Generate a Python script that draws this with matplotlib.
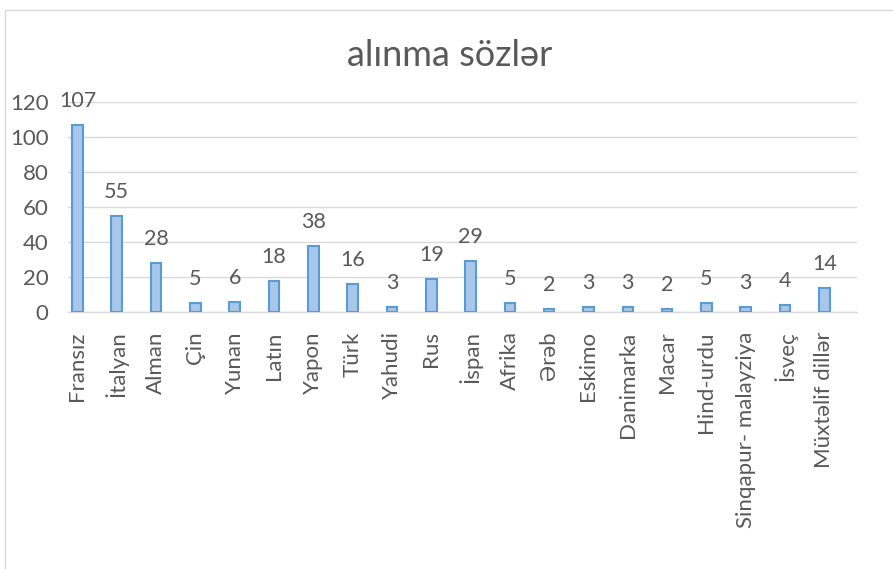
import matplotlib.pyplot as plt
from matplotlib.patches import Rectangle

# Borrowed words by source language
languages = ["Fransız", "İtalyan", "Alman", "Çin", "Yunan", "Latın", "Yapon", "Türk",
             "Yahudi", "Rus", "İspan", "Afrika", "Ərəb", "Eskimo", "Danimarka", "Macar",
             "Hind-urdu", "Sinqapur- malayziya", "İsveç", "Müxtəlif dillər"]
counts = [107, 55, 28, 5, 6, 18, 38, 16, 3, 19, 29, 5, 2, 3, 3, 2, 5, 3, 4, 14]
y_ticks = [0, 20, 40, 60, 80, 100, 120]

plt.rcParams['font.family'] = ['Lato', 'DejaVu Sans']
text_color = "#595959"
grid_color = "#D9D9D9"

fig = plt.figure(figsize=(8.93, 5.69), dpi=100)
ax = fig.add_axes([68 / 893, 1 - 312 / 569, (857 - 68) / 893, (312 - 102) / 569])

# chart frame (only left and top edges are visible)
fig.patches.append(Rectangle((5 / 893, -0.5), 2, 0.5 + (569 - 10) / 569,
                             transform=fig.transFigure, fill=False,
                             edgecolor=grid_color, linewidth=1))

x = list(range(len(languages)))
bars = ax.bar(x, counts, width=0.27, color="#A7C7EB", edgecolor="#5B9BD5",
              linewidth=1.5, zorder=3)

for xi, v in zip(x, counts):
    ax.annotate(str(v), (xi, v), xytext=(0, 10), textcoords="offset points",
                ha="center", va="bottom", fontsize=15.5, color=text_color,
                annotation_clip=False)

ax.set_xlim(-0.24, len(languages) - 1 + 0.83)
ax.set_ylim(0, 120)
ax.set_yticks(y_ticks)
ax.set_xticks(x)
ax.set_xticklabels(languages, rotation=90, fontsize=16, color=text_color)
ax.tick_params(axis="y", labelsize=16, labelcolor=text_color, length=0, pad=14)
ax.tick_params(axis="x", length=0, pad=14)

ax.grid(axis="y", color=grid_color, linewidth=1, zorder=0)
for side in ["top", "right", "left"]:
    ax.spines[side].set_visible(False)
ax.spines["bottom"].set_color(grid_color)
ax.spines["bottom"].set_linewidth(1)

fig.text(450 / 893, 1 - 55 / 569, "alınma sözlər", ha="center", va="center",
         fontsize=26, color=text_color)

fig.savefig("out.png", dpi=100)
